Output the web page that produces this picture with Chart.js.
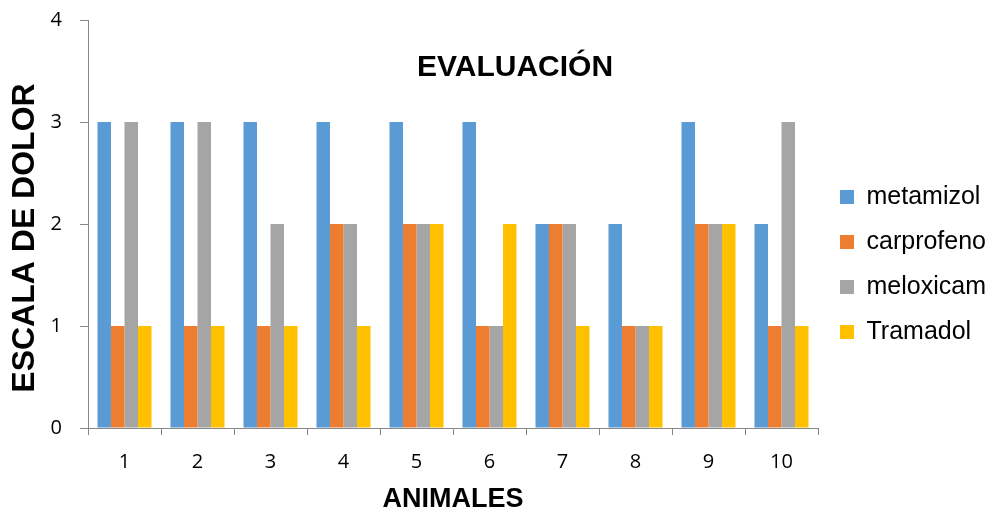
<!DOCTYPE html>
<html>
<head>
<meta charset="utf-8">
<script src="https://cdn.jsdelivr.net/npm/chart.js@4.4.1/dist/chart.umd.min.js"></script>
<style>
  html, body { margin: 0; padding: 0; background: #ffffff; }
  #wrap { width: 993px; height: 517px; position: relative; }
</style>
</head>
<body>
<div id="wrap"><canvas id="chart" width="993" height="517"></canvas></div>
<script>
// Pain-scale evaluation per animal, one series per drug
const animales   = ['1', '2', '3', '4', '5', '6', '7', '8', '9', '10'];
const metamizol  = [3, 3, 3, 3, 3, 3, 2, 2, 3, 2];
const carprofeno = [1, 1, 1, 2, 2, 1, 2, 1, 2, 1];
const meloxicam  = [3, 3, 2, 2, 2, 1, 2, 1, 2, 3];
const tramadol   = [1, 1, 1, 1, 2, 2, 1, 1, 2, 1];
const yTicks     = [0, 1, 2, 3, 4];

const chartTitle = 'EVALUACIÓN';
const yTitle = 'ESCALA DE DOLOR';
const xTitle = 'ANIMALES';

const AXIS_GREY = '#888888';

// Title and vertical axis title drawn over the plot
const overlayText = {
  id: 'overlayText',
  afterDraw(chart) {
    const ctx = chart.ctx;
    ctx.save();
    ctx.fillStyle = '#000000';
    ctx.font = 'bold 30px "Liberation Sans", Arial, sans-serif';
    ctx.textAlign = 'center';
    ctx.textBaseline = 'alphabetic';
    ctx.fillText(chartTitle, 515, 76);

    ctx.translate(25, 238);
    ctx.rotate(-Math.PI / 2);
    ctx.font = 'bold 32px "Liberation Sans", Arial, sans-serif';
    ctx.textBaseline = 'middle';
    ctx.fillText(yTitle, 0, 0);
    ctx.restore();
  }
};

// Fixed-width legend column on the right
const legendColumn = {
  id: 'legendColumn',
  beforeLayout(chart) {
    const lg = chart.legend;
    if (!lg || lg._patched) return;
    lg._patched = true;
    const fit = lg.fit;
    lg.fit = function () { fit.call(this); this.width = 175; };
    const draw = lg.draw;
    lg.draw = function (area) {
      const c = this.ctx;
      c.save();
      c.translate(2, -4);
      draw.call(this, area);
      c.restore();
    };
  }
};

new Chart(document.getElementById('chart'), {
  type: 'bar',
  data: {
    labels: animales,
    datasets: [
      { label: 'metamizol',  data: metamizol,  backgroundColor: '#5B9BD5' },
      { label: 'carprofeno', data: carprofeno, backgroundColor: '#ED7D31' },
      { label: 'meloxicam',  data: meloxicam,  backgroundColor: '#A5A5A5' },
      { label: 'Tramadol',   data: tramadol,   backgroundColor: '#FFC000' }
    ]
  },
  options: {
    responsive: false,
    animation: false,
    devicePixelRatio: 1,
    layout: { padding: { top: 20, left: 0, right: 0, bottom: 0 } },
    datasets: { bar: { categoryPercentage: 0.74, barPercentage: 1.0, borderWidth: 0 } },
    scales: {
      x: {
        offset: true,
        afterFit(s) { s.height = 89; },
        grid: {
          offset: true,
          drawOnChartArea: false,
          drawTicks: true,
          tickLength: 7,
          color: AXIS_GREY,
          lineWidth: 1
        },
        border: { display: true, color: AXIS_GREY, width: 1 },
        ticks: {
          color: '#000000',
          padding: 15,
          maxRotation: 0,
          font: { family: '"Open Sans", sans-serif', size: 20 }
        },
        title: {
          display: true,
          text: xTitle,
          color: '#000000',
          padding: { top: 0, bottom: 1 },
          font: { family: '"Liberation Sans", Arial, sans-serif', size: 27, weight: 'bold' }
        }
      },
      y: {
        min: 0,
        max: 4,
        afterFit(s) {
          s.width = 88;
          s.paddingTop = 0;
          s.paddingBottom = 0;
        },
        afterBuildTicks(s) { s.ticks = yTicks.map(v => ({ value: v })); },
        grid: {
          drawOnChartArea: false,
          drawTicks: true,
          tickLength: 8,
          color: AXIS_GREY,
          lineWidth: 1
        },
        border: { display: true, color: AXIS_GREY, width: 1 },
        ticks: {
          color: '#000000',
          padding: 18,
          font: { family: '"Open Sans", sans-serif', size: 20 }
        },
        title: { display: false }
      }
    },
    plugins: {
      title: { display: false },
      tooltip: { enabled: false },
      legend: {
        display: true,
        position: 'right',
        align: 'center',
        labels: {
          color: '#000000',
          boxWidth: 14,
          boxHeight: 14,
          padding: 20,
          font: { family: '"Liberation Sans", Arial, sans-serif', size: 25 }
        }
      }
    }
  },
  plugins: [legendColumn, overlayText]
});
</script>
</body>
</html>
